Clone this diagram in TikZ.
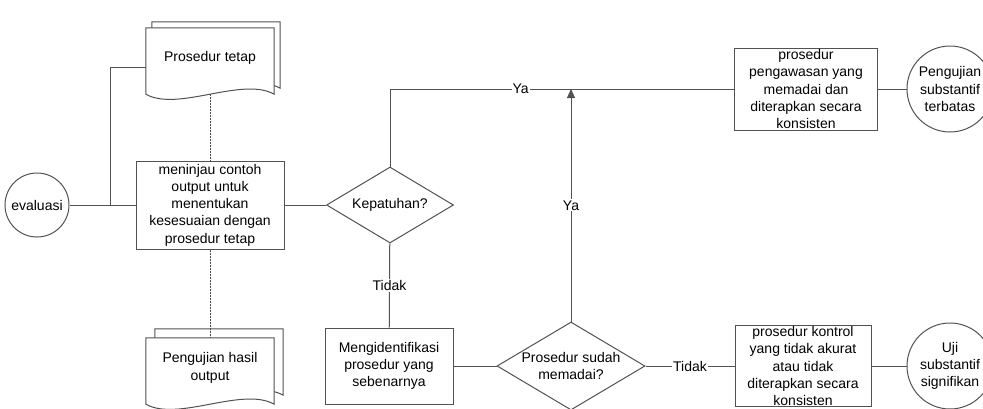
\documentclass[tikz,border=0pt]{standalone}
\usepackage{fontspec}
\setmainfont{Liberation Sans}
\usetikzlibrary{shapes.geometric,arrows.meta,backgrounds,calc}

% kertas dokumen bertumpuk: #1 nama node, #2 geser lembar belakang
\newcommand{\auKertas}[2]{%
  \foreach \d in {#2,0}{
    \draw[auGaris,fill=white] ($(#1.north west)+(\d,-\d)$) -- ($(#1.south west)+(\d,-\d)$)
      .. controls +(32,18) and +(-32,-18) .. ($(#1.south east)+(\d,-\d)$)
      -- ($(#1.north east)+(\d,-\d)$) -- cycle;
  }}

\begin{document}
\begin{tikzpicture}[x=1pt,y=-1pt,font=\fontsize{14}{17.3}\selectfont]
\tikzset{
    auGaris/.style={draw=black!68,line width=1pt},
    auProses/.style={rectangle,auGaris,align=center,inner sep=0pt},
    auTanya/.style={diamond,auGaris,align=center,inner sep=0pt},
    auUjung/.style={circle,auGaris,align=center,inner sep=0pt},
    auDok/.style={rectangle,align=center,inner sep=0pt,minimum width=128pt,minimum height=66pt,text depth=9pt},
    auLabel/.style={fill=white,inner sep=1pt},
    auTitik/.style={draw=black!70,line width=1pt,dash pattern=on 2pt off 1pt},
}
\path[use as bounding box,clip] (0,0) rectangle (983,408);

\node[auUjung,minimum size=64pt] (evaluasi) at (37,205) {evaluasi};
\node[auDok] (tetap) at (210,61) {Prosedur tetap};
\node[auProses,minimum width=148pt,minimum height=88pt] (tinjau) at (210,205) {meninjau contoh\\output untuk\\menentukan\\kesesuaian dengan\\prosedur tetap};
\node[auDok] (hasil) at (210,371) {Pengujian hasil\\output};

\node[auTanya,minimum width=127pt,minimum height=76pt,aspect=1.67] (patuh) at (390,205) {Kepatuhan?};
\node[auProses,minimum width=128pt,minimum height=76pt] (identif) at (389,366) {Mengidentifikasi\\prosedur yang\\sebenarnya};
\node[auTanya,minimum width=148pt,minimum height=88pt,aspect=1.68,inner sep=-2pt] (memadai) at (571,366) {Prosedur sudah\\memadai?};

\node[auProses,minimum width=143pt,minimum height=82pt,inner ysep=-4pt] (awas) at (806,89) {prosedur\\pengawasan yang\\memadai dan\\diterapkan secara\\konsisten};
\node[auProses,minimum width=136pt,minimum height=81pt,inner ysep=-4pt] (kontrol) at (803,366) {prosedur kontrol\\yang tidak akurat\\atau tidak\\diterapkan secara\\konsisten};
\node[auUjung,minimum size=86pt] (terbatas) at (950,89) {Pengujian\\substantif\\terbatas};
\node[auUjung,minimum size=86pt] (signif) at (950,366) {Uji\\substantif\\signifikan};

\begin{scope}[on background layer]
\auKertas{tetap}{6}
\auKertas{hasil}{9}
\end{scope}

\coordinate (cabang) at (110,205);
\draw[auGaris] (evaluasi) -- (tinjau);
\draw[auGaris] (cabang) |- ([yshift=-6pt]tetap.west);
\draw[auTitik] (tetap.south) -- (tinjau.north);
\draw[auTitik] (tinjau.south) -- (hasil.north);
\draw[auGaris] (tinjau) -- (patuh);
\draw[auGaris] (patuh.north) |- node[auLabel,pos=0.69]{Ya} (awas.west);
\draw[auGaris] (patuh) -- node[auLabel]{Tidak} (identif);
\draw[auGaris] (identif) -- (memadai);
\draw[auGaris,-{Triangle[length=9pt,width=8pt]}] (memadai) -- node[auLabel]{Ya} (memadai |- awas.west);
\draw[auGaris] (memadai) -- node[auLabel]{Tidak} (kontrol);
\draw[auGaris] (awas) -- (terbatas);
\draw[auGaris] (kontrol) -- (signif);
\end{tikzpicture}
\end{document}
